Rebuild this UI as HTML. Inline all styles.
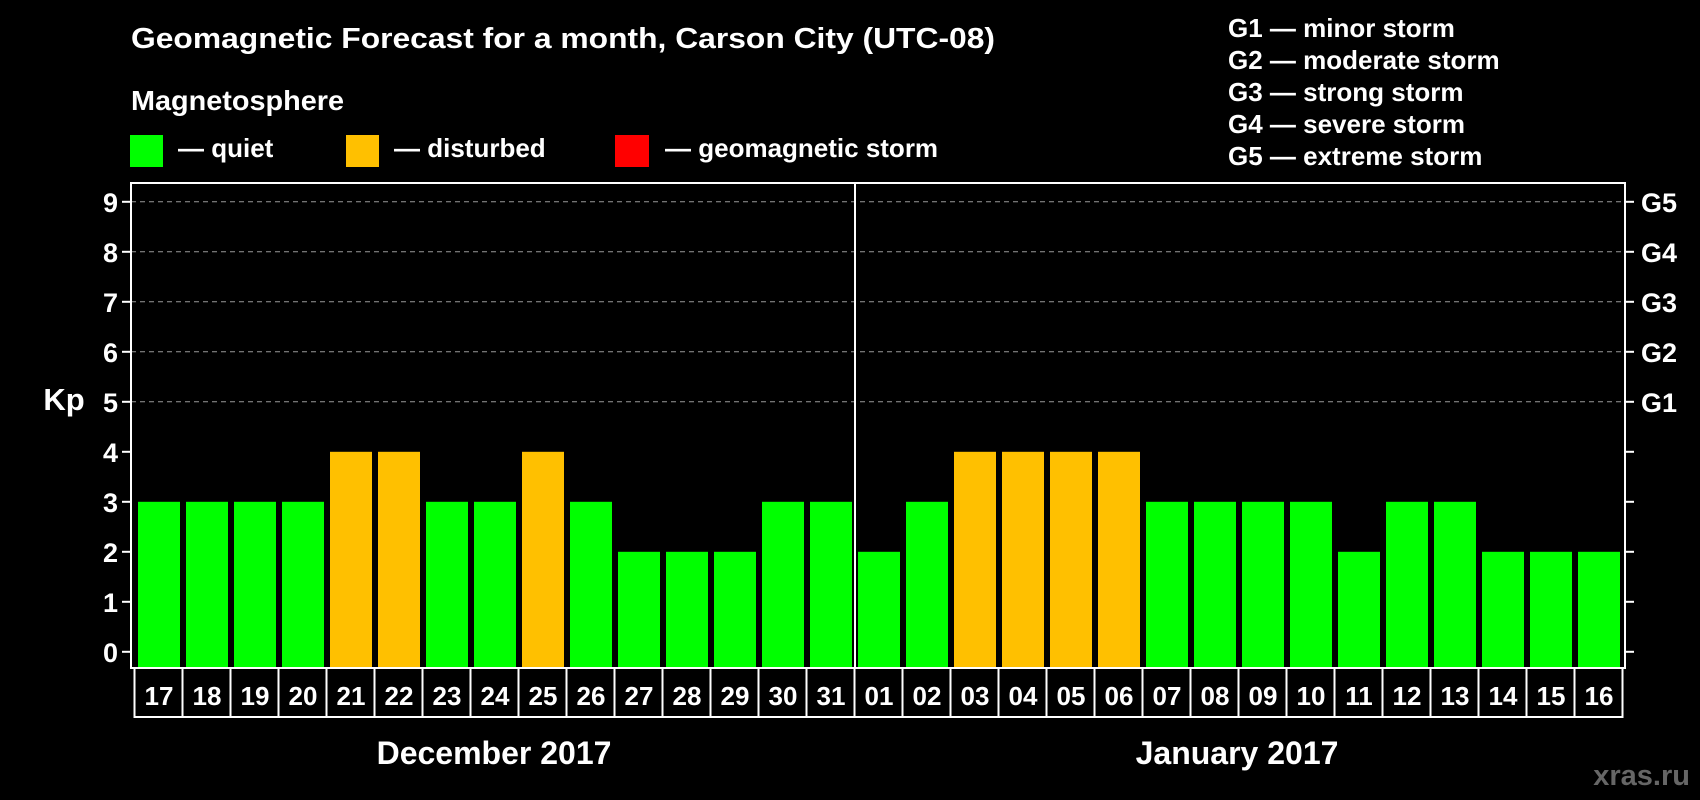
<!DOCTYPE html>
<html><head><meta charset="utf-8"><style>
html,body{margin:0;padding:0;background:#000;}
svg{display:block;font-family:"Liberation Sans",Arial,sans-serif;font-weight:bold;}
</style></head><body>
<svg id="chart" width="1700" height="800" viewBox="0 0 1700 800" xmlns="http://www.w3.org/2000/svg">
<rect width="1700" height="800" fill="#000"/>
<text x="131" y="48" fill="#fff" font-size="29" textLength="864" lengthAdjust="spacingAndGlyphs">Geomagnetic Forecast for a month, Carson City (UTC-08)</text>
<text x="131" y="110" fill="#fff" font-size="28" textLength="213" lengthAdjust="spacingAndGlyphs">Magnetosphere</text>
<g><rect x="130" y="135" width="33" height="32" fill="#00ff00"/><text x="178" y="157" fill="#fff" font-size="26">— quiet</text></g>
<g><rect x="346" y="135" width="33" height="32" fill="#ffc000"/><text x="394" y="157" fill="#fff" font-size="26">— disturbed</text></g>
<g><rect x="615" y="135" width="34" height="32" fill="#ff0000"/><text x="665" y="157" fill="#fff" font-size="26">— geomagnetic storm</text></g>
<g fill="#fff" font-size="26">
<text x="1228" y="37">G1 — minor storm</text>
<text x="1228" y="69">G2 — moderate storm</text>
<text x="1228" y="101">G3 — strong storm</text>
<text x="1228" y="133">G4 — severe storm</text>
<text x="1228" y="165">G5 — extreme storm</text>
</g>
<g id="grid"></g>
<g id="bars"></g>
<g id="axes"></g>
<text x="64" y="410" fill="#fff" font-size="31" text-anchor="middle">Kp</text>
<text x="494" y="764" fill="#fff" font-size="32" text-anchor="middle">December 2017</text>
<text x="1237" y="764" fill="#fff" font-size="32" text-anchor="middle">January 2017</text>
<text x="1690" y="785" fill="#666" font-size="29" text-anchor="end">xras.ru</text>
</svg>
<script>
const days = ["17","18","19","20","21","22","23","24","25","26","27","28","29","30","31","01","02","03","04","05","06","07","08","09","10","11","12","13","14","15","16"];
const kpValues = [3,3,3,3,4,4,3,3,4,3,2,2,2,3,3,2,3,4,4,4,4,3,3,3,3,2,3,3,2,2,2];
const yTicks = [0,1,2,3,4,5,6,7,8,9];
const gLabels = ["","","","","","G1","G2","G3","G4","G5"];
const monthSplit = 15;

(function(){
const NS="http://www.w3.org/2000/svg";
const pL=131,pR=1625,pT=183,pB=668;
const x0=138,pitch=48,bw=42;
const yS=v=>651.8-v*50;
const xS=i=>x0+i*pitch;
function mk(t,a,p){const e=document.createElementNS(NS,t);for(const k in a)e.setAttribute(k,a[k]);p.appendChild(e);return e;}
const grid=document.getElementById('grid'),bars=document.getElementById('bars'),axes=document.getElementById('axes');
yTicks.forEach(v=>{
  if(v>=5){const l=mk('line',{x1:pL,x2:pR,y1:yS(v),y2:yS(v),stroke:'#999','stroke-dasharray':'5,4','stroke-width':1},grid);
  
  }
  mk('line',{x1:pL-9,x2:pL,y1:yS(v),y2:yS(v),stroke:'#fff','stroke-width':2},axes);
  mk('line',{x1:pR,x2:pR+9,y1:yS(v),y2:yS(v),stroke:'#fff','stroke-width':2},axes);
  const t=mk('text',{x:118,y:yS(v)+10,fill:'#fff','font-size':27,'text-anchor':'end'},axes);t.textContent=v;
  
  
  if(gLabels[v]){const g=mk('text',{x:1641,y:yS(v)+10,fill:'#fff','font-size':27},axes);g.textContent=gLabels[v];
  
  }
});
kpValues.forEach((v,i)=>{
  const c=v>=5?'#ff0000':(v>=4?'#ffc000':'#00ff00');
  const r=mk('rect',{x:xS(i),y:yS(v),width:bw,height:pB-yS(v),fill:c},bars);
  
  
  const t=mk('text',{x:xS(i)+bw/2,y:705,fill:'#fff','font-size':26,'text-anchor':'middle'},axes);t.textContent=days[i];
  
  
  mk('line',{x1:xS(i)-3.5,x2:xS(i)-3.5,y1:pB,y2:717,stroke:'#fff','stroke-width':2},axes);
});
mk('line',{x1:xS(kpValues.length)-3.5,x2:xS(kpValues.length)-3.5,y1:pB,y2:717,stroke:'#fff','stroke-width':2},axes);
mk('line',{x1:xS(0)-4.5,x2:xS(kpValues.length)-2.5,y1:717,y2:717,stroke:'#fff','stroke-width':2},axes);
mk('rect',{x:pL,y:pT,width:pR-pL,height:pB-pT,fill:'none',stroke:'#fff','stroke-width':2},axes);
const d=mk('line',{x1:xS(monthSplit)-3,x2:xS(monthSplit)-3,y1:pT,y2:pB,stroke:'#fff','stroke-width':2},axes);


})();
</script>
</body></html>
